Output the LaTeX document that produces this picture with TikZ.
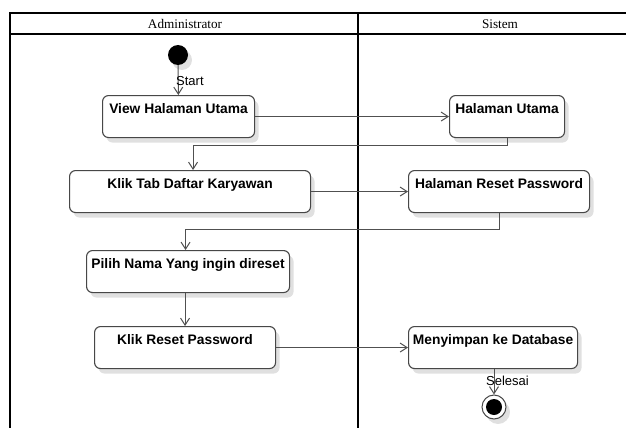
\documentclass[tikz,border=0pt]{standalone}
\usepackage{fontspec}
\setmainfont{Liberation Serif}
\newfontfamily\uisans{Liberation Sans}
\usetikzlibrary{arrows.meta,shadows}
\definecolor{edgegray}{HTML}{474747}
\definecolor{flowgray}{HTML}{505050}
\definecolor{shadowgray}{HTML}{E0E0E0}
\begin{document}
\begin{tikzpicture}[x=1pt,y=-1pt,
  lane/.style={line width=1.6pt, draw=black},
  lanetitle/.style={font=\fontsize{13.2}{15}\selectfont, inner sep=0pt},
  softshadow/.style={drop shadow={shadow xshift=4pt, shadow yshift=-5pt, fill=shadowgray, opacity=1}},
  action/.style={draw=edgegray, line width=1.1pt, rounded corners=6pt, fill=white,
    font=\uisans\bfseries\fontsize{13.8}{16}\selectfont,
    anchor=north west, inner xsep=0pt, inner ysep=0pt,
    text height=18pt, text depth=24pt, softshadow},
  flow/.style={draw=flowgray, line width=1pt, -{Straight Barb[length=7pt,width=9pt]}},
  flowlabel/.style={font=\uisans\fontsize{13}{15}\selectfont, inner sep=0pt, anchor=base west},
  initialstate/.style={circle, fill=black, minimum size=20pt, inner sep=0pt, softshadow},
  finalstate/.style={circle, draw=edgegray, line width=1pt, fill=white, minimum size=24pt,
    inner sep=0pt, softshadow,
    path picture={\fill[black] (path picture bounding box.center) circle (8pt);}}
]
\useasboundingbox (0,0) rectangle (626,428);

% swimlane frame
\draw[lane] (10,428) -- (10,13) -- (626,13);
\draw[lane] (10,34) -- (626,34);
\draw[lane] (358,13) -- (358,428);
\node[lanetitle] (laneadmin) at (185,24) {Administrator};
\node[lanetitle] (lanesys) at (500,24) {Sistem};

% states
\node[initialstate] (start) at (178,55) {};
\node[finalstate] (end) at (494,407) {};

% administrator actions
\node[action, minimum width=152pt] (v1) at (102,95) {View Halaman Utama};
\node[action, minimum width=241pt] (v2) at (69,170) {Klik Tab Daftar Karyawan};
\node[action, minimum width=203pt] (v3) at (86,250) {Pilih Nama Yang ingin direset};
\node[action, minimum width=181pt] (v4) at (94,326) {Klik Reset Password};

% system actions
\node[action, minimum width=115pt] (s1) at (449,95) {Halaman Utama};
\node[action, minimum width=181pt] (s2) at (408,170) {Halaman Reset Password};
\node[action, minimum width=169pt] (s4) at (408,326) {Menyimpan ke Database};

% control flow
\draw[flow] (start) -- (v1);
\draw[flow] (v1) -- (s1);
\draw[flow] (s1.south) -- ++(0,7) -| ([xshift=3pt]v2.north);
\draw[flow] (v2) -- (s2);
\draw[flow] (s2.south) -- ++(0,16) -| ([xshift=-2.5pt]v3.north);
\draw[flow] (v3.south -| v4.north) -- (v4.north);
\draw[flow] (v4) -- (s4);
\draw[flow] (s4.south -| end.north) -- (end.north);

% flow labels
\node[flowlabel] (startlbl) at (176,85) {Start};
\node[flowlabel] (endlbl) at (486,385) {Selesai};
\end{tikzpicture}
\end{document}
